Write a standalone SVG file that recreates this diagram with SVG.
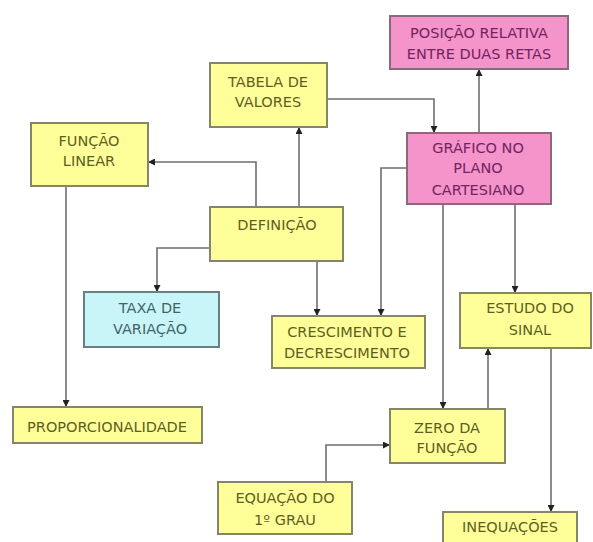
<svg xmlns="http://www.w3.org/2000/svg" width="593" height="542" viewBox="0 0 593 542">
<defs>
<marker id="ah" viewBox="0 0 10 10" refX="10" refY="5" markerWidth="7" markerHeight="7" markerUnits="userSpaceOnUse" orient="auto">
<path d="M0,0 L10,5 L0,10 z" fill="#222"/>
</marker>
<style>
.y{fill:#ffff99;stroke:#85856a;stroke-width:2}
.p{fill:#f593cb;stroke:#8a6a7a;stroke-width:2}
.c{fill:#c8f6f8;stroke:#6a7f80;stroke-width:2}
text{font-family:"DejaVu Sans",sans-serif;font-size:14.5px;text-anchor:middle}
.ty{fill:#5e5e22}
.tp{fill:#72245e}
.tc{fill:#446268}
.l{fill:none;stroke:#6e6e6e;stroke-width:1.6;marker-end:url(#ah)}
</style>
</defs>
<rect width="593" height="542" fill="#ffffff"/>
<g id="connectors">
<path class="l" d="M299,207 V127"/>
<path class="l" d="M256,207 V162 H148"/>
<path class="l" d="M210,248 H157 V292"/>
<path class="l" d="M317,261 V316"/>
<path class="l" d="M66,186 V407"/>
<path class="l" d="M327,99 H434 V133"/>
<path class="l" d="M479,133 V69"/>
<path class="l" d="M407,168 H381 V316"/>
<path class="l" d="M443,204 V409"/>
<path class="l" d="M515,204 V293"/>
<path class="l" d="M488,409 V348"/>
<path class="l" d="M551,348 V512"/>
<path class="l" d="M326,482 V445 H390"/>
</g>
<g id="tabela"><rect class="y" x="210" y="63" width="117" height="64"/><text class="ty" x="268" y="87">TABELA DE</text><text class="ty" x="268" y="107">VALORES</text></g>
<g id="funcao-linear"><rect class="y" x="31" y="123" width="117" height="63"/><text class="ty" x="89" y="146">FUNÇÃO</text><text class="ty" x="89" y="166">LINEAR</text></g>
<g id="posicao"><rect class="p" x="390" y="16" width="178" height="53"/><text class="tp" x="479" y="38">POSIÇÃO RELATIVA</text><text class="tp" x="479" y="59">ENTRE DUAS RETAS</text></g>
<g id="grafico"><rect class="p" x="407" y="133" width="144" height="71"/><text class="tp" x="478" y="153">GRÁFICO NO</text><text class="tp" x="478" y="173">PLANO</text><text class="tp" x="478" y="195">CARTESIANO</text></g>
<g id="definicao"><rect class="y" x="210" y="207" width="133" height="54"/><text class="ty" x="277" y="230">DEFINIÇÃO</text></g>
<g id="taxa"><rect class="c" x="84" y="292" width="135" height="55"/><text class="tc" x="150" y="313">TAXA DE</text><text class="tc" x="150" y="334">VARIAÇÃO</text></g>
<g id="crescimento"><rect class="y" x="272" y="316" width="153" height="52"/><text class="ty" x="347" y="337">CRESCIMENTO E</text><text class="ty" x="347" y="358">DECRESCIMENTO</text></g>
<g id="estudo"><rect class="y" x="460" y="293" width="131" height="55"/><text class="ty" x="530" y="313">ESTUDO DO</text><text class="ty" x="530" y="335">SINAL</text></g>
<g id="proporcionalidade"><rect class="y" x="13" y="407" width="189" height="36"/><text class="ty" x="107" y="432">PROPORCIONALIDADE</text></g>
<g id="zero"><rect class="y" x="390" y="409" width="115" height="54"/><text class="ty" x="447" y="433">ZERO DA</text><text class="ty" x="447" y="453">FUNÇÃO</text></g>
<g id="equacao"><rect class="y" x="218" y="482" width="134" height="52"/><text class="ty" x="285" y="503">EQUAÇÃO DO</text><text class="ty" x="285" y="525">1º GRAU</text></g>
<g id="inequacoes"><rect class="y" x="443" y="512" width="134" height="36"/><text class="ty" x="510" y="532">INEQUAÇÕES</text></g>
</svg>
